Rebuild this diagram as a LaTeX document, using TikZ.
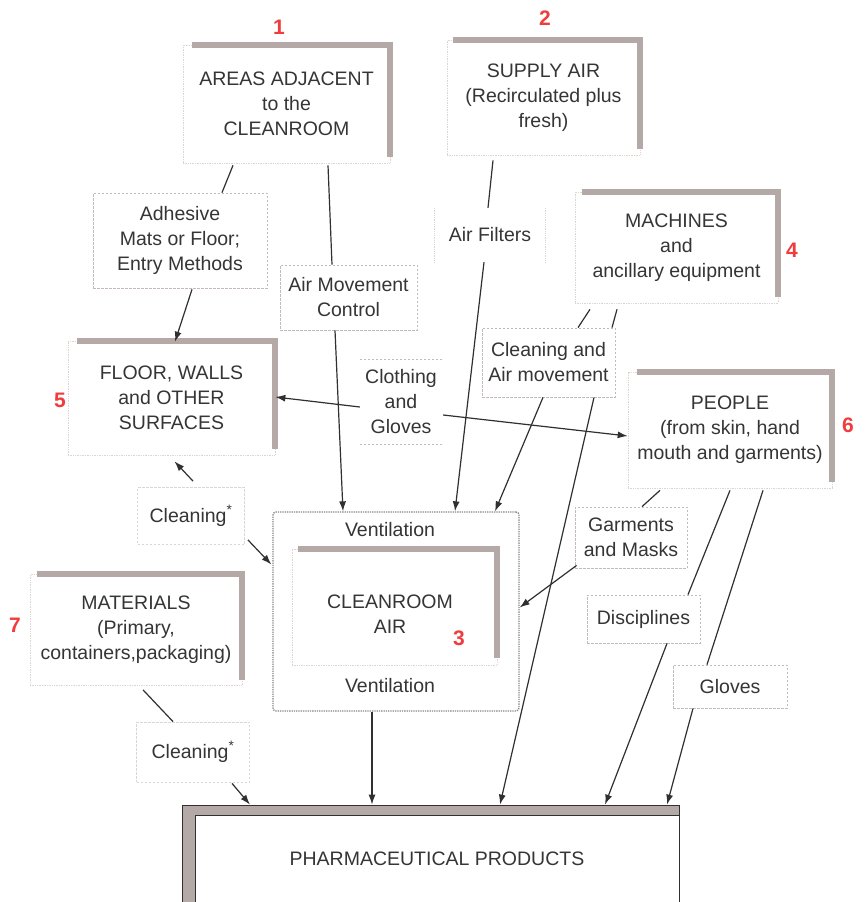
\documentclass[tikz,border=0pt]{standalone}
\usepackage{fontspec}
\setmainfont{Liberation Sans}
\usetikzlibrary{arrows.meta}
\definecolor{txt}{HTML}{353535}
\definecolor{barc}{HTML}{B4A9A6}
\definecolor{faint}{HTML}{DCD5D2}
\definecolor{dashc}{HTML}{C4BBB8}
\definecolor{ventc}{HTML}{8C8480}
\definecolor{numc}{HTML}{F03C3C}
\definecolor{lnc}{HTML}{303030}
\begin{document}
\begin{tikzpicture}[x=1pt,y=-1pt,
  every node/.style={font=\fontsize{19.5}{25}\selectfont, text=txt, align=center, inner sep=0pt},
  mainbox/.style={draw=faint, densely dotted, line width=0.7pt, fill=white},
  lbl/.style={draw=dashc, dash pattern=on 2.5pt off 1.5pt, line width=0.8pt},
  conn/.style={draw=lnc, line width=1.2pt},
  arr/.style={conn, -{Latex[length=10pt,width=7pt]}},
  numlbl/.style={text=numc, font=\fontsize{21}{21}\selectfont\bfseries},
  shadowbar/.style={draw=barc, line width=6pt}]
\useasboundingbox[fill=white] (0,0) rectangle (866,902);

% main boxes
\node[mainbox, minimum width=207pt, minimum height=118pt] (b1) at (286.5,104) {AREAS ADJACENT\\to the\\CLEANROOM};
\draw[shadowbar] ([shift={(9,0)}]b1.north west) -- (b1.north east) -- ([shift={(0,-6)}]b1.south east);
\node[numlbl] (n1) at (279,27) {1};

\node[mainbox, minimum width=193pt, minimum height=115pt] (b2) at (543.5,97.5) {SUPPLY AIR\\(Recirculated plus\\fresh)};
\draw[shadowbar] ([shift={(6,0)}]b2.north west) -- (b2.north east) -- ([shift={(0,-6)}]b2.south east);
\node[numlbl] (n2) at (545,18) {2};

\node[mainbox, minimum width=203pt, minimum height=111pt] (b4) at (676.5,247.5) {MACHINES\\and\\ancillary equipment};
\draw[shadowbar] ([shift={(7,0)}]b4.north west) -- (b4.north east) -- ([shift={(0,-6)}]b4.south east);
\node[numlbl] (n4) at (792,250) {4};

\node[mainbox, minimum width=207pt, minimum height=114pt] (b5) at (171.5,398) {FLOOR, WALLS\\and OTHER\\SURFACES};
\draw[shadowbar] ([shift={(9,0)}]b5.north west) -- (b5.north east) -- ([shift={(0,-6)}]b5.south east);
\node[numlbl] (n5) at (60,400) {5};

\node[mainbox, minimum width=204pt, minimum height=116pt] (b6) at (730,430) {PEOPLE\\(from skin, hand\\mouth and garments)};
\draw[shadowbar] ([shift={(9,0)}]b6.north west) -- (b6.north east) -- ([shift={(0,-6)}]b6.south east);
\node[numlbl] (n6) at (848,425) {6};

\node[mainbox, minimum width=212pt, minimum height=111pt] (b7) at (136,630) {MATERIALS\\(Primary,\\containers,packaging)};
\draw[shadowbar] ([shift={(7,0)}]b7.north west) -- (b7.north east) -- ([shift={(0,-6)}]b7.south east);
\node[numlbl] (n7) at (15,625) {7};

% cleanroom air with ventilation
\node[draw=ventc, densely dotted, line width=1.3pt, rounded corners=3pt, minimum width=246pt, minimum height=199pt] (vent) at (396,611.5) {};
\node (vt) at (390,530) {Ventilation};
\node (vb) at (390,686) {Ventilation};
\node[mainbox, minimum width=205pt, minimum height=116pt] (b3) at (394.5,607) {};
\draw[shadowbar] ([shift={(6,0)}]b3.north west) -- (b3.north east) -- ([shift={(0,-7)}]b3.south east);
\node (b3t) at (390,614.5) {CLEANROOM\\AIR};
\node[numlbl] (n3) at (459,638) {3};

% products
\node[draw=lnc, line width=0.8pt, fill=barc, minimum width=497pt, minimum height=100pt] (prodf) at (430.5,855) {};
\node[draw=lnc, line width=1pt, fill=white, minimum width=484pt, minimum height=88pt] (prod) at (437,859) {PHARMACEUTICAL PRODUCTS};

% label boxes
\node[lbl, minimum width=174pt, minimum height=95pt] (adh) at (180,240.5) {Adhesive\\Mats or Floor;\\Entry Methods};
\node[lbl, minimum width=137pt, minimum height=65pt] (amc) at (348.5,297.5) {Air Movement\\Control};
\node[minimum width=110pt, minimum height=54pt] (af) at (490,235) {Air Filters};
\draw[faint, densely dotted, line width=0.8pt] (af.north west) -- (af.south west) (af.north east) -- (af.south east);
\node[minimum width=82pt, minimum height=84pt] (cg) at (401,402) {Clothing\\and\\Gloves};
\draw[dashc, dash pattern=on 2.5pt off 1.5pt, line width=0.8pt] (cg.north west) -- (cg.north east) (cg.south west) -- (cg.south east);
\node[lbl, minimum width=133pt, minimum height=69pt] (caa) at (548.5,362.5) {Cleaning and\\Air movement};
\node[lbl, draw=faint, minimum width=107pt, minimum height=57pt] (cl1) at (191,516) {Cleaning\textsuperscript{*}};
\node[lbl, minimum width=112pt, minimum height=61pt] (gm) at (631,537.5) {Garments\\and Masks};
\node[lbl, minimum width=113pt, minimum height=48pt] (dis) at (643.5,619) {Disciplines};
\node[lbl, minimum width=114pt, minimum height=43pt] (glv) at (730,686.5) {Gloves};
\node[lbl, draw=faint, minimum width=113pt, minimum height=60pt] (cl2) at (193,752) {Cleaning\textsuperscript{*}};

% connectors
\draw[conn] ([shift={(-53.5,2)}]b1.south) -- ([shift={(42,0)}]adh.north);
\draw[arr] ([shift={(12,1)}]adh.south) -- ([shift={(3.5,1)}]b5.north);
\draw[conn] ([shift={(41.5,2)}]b1.south) -- ([shift={(-16.5,0)}]amc.north);
\draw[arr] ([shift={(-13.5,0)}]amc.south) -- ([shift={(-53,0)}]vent.north);
\draw[conn] ([shift={(-50.5,5)}]b2.south) -- ([shift={(-2,0)}]af.north);
\draw[arr] ([shift={(-6,0)}]af.south) -- ([shift={(59,0)}]vent.north);
\draw[conn] ([shift={(-86.5,6)}]b4.south) -- ([shift={(29.5,0)}]caa.north);
\draw[conn] ([shift={(-59.5,6)}]b4.south) -- ([shift={(63.5,0)}]caa.north);
\draw[arr] ([shift={(-5.5,0)}]caa.south) -- ([shift={(99,0)}]vent.north);
\draw[arr] ([shift={(45.5,0)}]caa.south) -- ([shift={(69.5,0)}]prodf.north);
\draw[arr] ([shift={(0,5)}]cg.west) -- ([shift={(0,-1)}]b5.east);
\draw[arr] ([shift={(1,13)}]cg.east) -- ([shift={(0,6)}]b6.west);
\draw[conn] ([shift={(-70,2)}]b6.south) -- ([shift={(11,0)}]gm.north);
\draw[arr] ([shift={(2,-3)}]gm.south west) -- ([shift={(0,-4)}]vent.east);
\draw[conn] ([shift={(0,2)}]b6.south) -- ([shift={(44.5,0)}]dis.north);
\draw[arr] ([shift={(23.5,0)}]dis.south) -- ([shift={(174.5,0)}]prodf.north);
\draw[conn] ([shift={(33,2)}]b6.south) -- ([shift={(-23,0)}]glv.north);
\draw[arr] ([shift={(-37,0)}]glv.south) -- ([shift={(236.5,0)}]prodf.north);
\draw[arr] ([shift={(2,-6)}]cl1.north) -- ([shift={(3,6)}]b5.south);
\draw[arr] ([shift={(3,-5)}]cl1.south east) -- ([shift={(-1,-47)}]vent.west);
\draw[conn] ([shift={(7,4)}]b7.south) -- ([shift={(-20,0)}]cl2.north);
\draw[arr] ([shift={(39,1)}]cl2.south) -- ([shift={(-180.5,0)}]prodf.north);
\draw[arr] ([shift={(-24,0)}]vent.south) -- ([shift={(-58.5,0)}]prodf.north);
\end{tikzpicture}
\end{document}
